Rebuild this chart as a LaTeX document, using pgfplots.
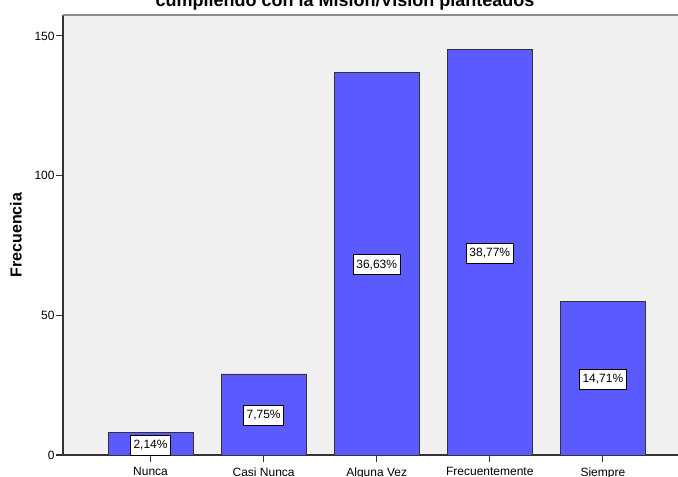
\documentclass[border=0pt]{standalone}
\usepackage{pgfplots}
\pgfplotsset{compat=1.18}
\usepackage{fontspec}
\setmainfont{Liberation Sans}
\definecolor{barblue}{RGB}{90,90,255}
\definecolor{bgray}{RGB}{240,240,240}
\definecolor{axdark}{RGB}{51,51,51}
\begin{document}
\begin{tikzpicture}
\begin{axis}[
  at={(0,0)}, anchor=south west,
  scale only axis,
  width=461.25pt, height=330pt,
  xmin=-0.774, xmax=4.664,
  ymin=0, ymax=157.5,
  axis x line=bottom, axis y line=left,
  axis line style={-, draw=axdark, line width=0.8pt},
  axis background/.style={fill=bgray},
  xtick={0,1,2,3,4},
  xticklabels={Nunca,Casi Nunca,Alguna Vez,Frecuentemente,Siempre},
  ytick={0,50,100,150},
  tick align=outside,
  major tick length=5pt,
  tick style={draw=axdark, line width=0.8pt},
  xticklabel style={font=\fontsize{9}{10}\selectfont, yshift=-1pt},
  yticklabel style={font=\fontsize{9}{10}\selectfont, xshift=2.2pt},
  /pgf/number format/assume math mode=true,
  ylabel={Frecuencia},
  ylabel style={font=\bfseries\fontsize{12}{14}\selectfont, at={(axis description cs:-0.0764,0.5)}, anchor=center},
  title={cumpliendo con la Misión/Visión planteados},
  title style={font=\bfseries\fontsize{13.5}{15}\selectfont, at={(axis description cs:0.4585,1)}, anchor=base, yshift=0.4pt},
  clip=false,
]
\addplot[ybar, bar width=0.752, fill=barblue, draw=axdark, line width=0.7pt,
  nodes near coords, point meta=explicit symbolic,
  visualization depends on=rawy \as \rawy,
  every node near coord/.append style={anchor=center, shift={(axis direction cs:0,-\rawy/2)}, yshift=-0.8pt,
    fill=white, draw=black, line width=0.5pt, inner xsep=2.3pt, inner ysep=3.8pt,
    font=\fontsize{9}{10}\selectfont, text=black}]
coordinates {
(0,8) [2,14\%]
(1,29) [7,75\%]
(2,137) [36,63\%]
(3,145) [38,77\%]
(4,55) [14,71\%]
};
\draw[draw=gray!90, line width=1.1pt] (rel axis cs:0,1) -- (rel axis cs:1,1);
\end{axis}
\pgfresetboundingbox
\path[use as bounding box] (-47.25pt,-15.75pt) rectangle (461.25pt,341.25pt);
\end{tikzpicture}
\end{document}
